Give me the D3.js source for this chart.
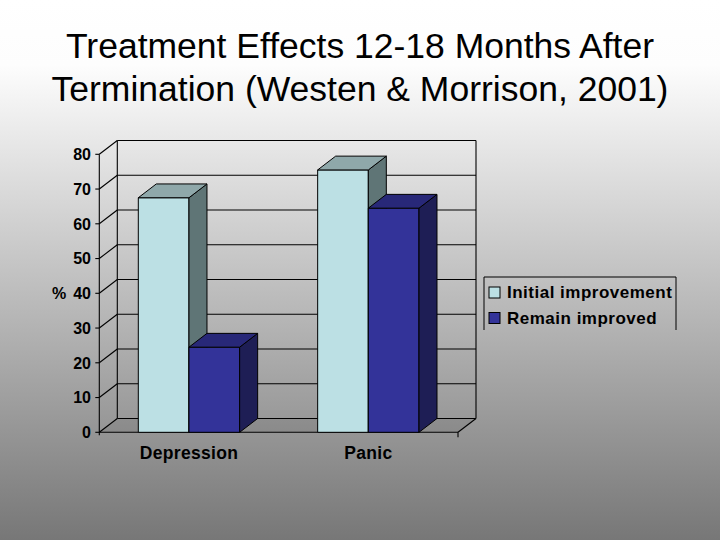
<!DOCTYPE html>
<html>
<head>
<meta charset="utf-8">
<script src="https://cdn.jsdelivr.net/npm/d3@7"></script>
<style>
  html, body { margin: 0; padding: 0; }
  body { width: 720px; height: 540px; overflow: hidden; }
  text { font-family: "Liberation Sans", Arial, sans-serif; }
</style>
</head>
<body>
<svg id="chart" width="720" height="540"></svg>
<script>
const titleLines = ["Treatment Effects 12-18 Months After", "Termination (Westen & Morrison, 2001)"];
const categories = ["Depression", "Panic"];
const seriesNames = ["Initial improvement", "Remain improved"];
const initialImprovement = [67.5, 75.5];
const remainImproved = [24.5, 64.5];
const yTicks = [0, 10, 20, 30, 40, 50, 60, 70, 80];
const yAxisLabel = "%";

const seriesValues = [initialImprovement, remainImproved];
const colors = [
  { front: "#bce0e4", top: "#8fa8aa", side: "#5f7576" },
  { front: "#333399", top: "#282878", side: "#1e1e55" }
];

const svg = d3.select("#chart");
const defs = svg.append("defs");
const grad = defs.append("linearGradient").attr("id", "bg").attr("x1", 0).attr("y1", 0).attr("x2", 0).attr("y2", 1);
grad.append("stop").attr("offset", "0%").attr("stop-color", "#ffffff");
grad.append("stop").attr("offset", "12%").attr("stop-color", "#fdfdfd");
grad.append("stop").attr("offset", "100%").attr("stop-color", "#777777");
svg.append("rect").attr("width", 720).attr("height", 540).attr("fill", "url(#bg)");

// Title
svg.append("g").selectAll("text").data(titleLines).join("text")
  .attr("x", 360).attr("y", (d, i) => 57.5 + i * 43.4)
  .attr("text-anchor", "middle")
  .attr("font-size", 35.5)
  .attr("fill", "#000")
  .text(d => d);

// Geometry
const x0 = 99.3, x1 = 458, dx = 18, dy = 13.8;
const y = d3.scaleLinear().domain([0, 80]).range([432.3, 154.3]);
const xCat = d3.scaleBand().domain(categories).range([x0, x1]).paddingInner(0.435).paddingOuter(0.2175);
const xSer = d3.scaleBand().domain(d3.range(seriesNames.length)).range([0, xCat.bandwidth()]);

const g = svg.append("g");
const line = (ax, ay, bx, by) => g.append("line").attr("x1", ax).attr("y1", ay).attr("x2", bx).attr("y2", by)
  .attr("stroke", "#000").attr("stroke-width", 1.1);

// Floor
g.append("path")
  .attr("d", `M${x0},${y(0)} L${x1},${y(0)} L${x1 + dx},${y(0) - dy} L${x0 + dx},${y(0) - dy} Z`)
  .attr("fill", "#000").attr("fill-opacity", 0.07);

// Back wall gridlines and side wall diagonals
yTicks.forEach(v => {
  line(x0 + dx, y(v) - dy, x1 + dx, y(v) - dy);
  line(x0, y(v), x0 + dx, y(v) - dy);
});
line(x0 + dx, y(0) - dy, x0 + dx, y(80) - dy);
line(x1 + dx, y(0) - dy, x1 + dx, y(80) - dy);
line(x1, y(0), x1 + dx, y(0) - dy);

// Front axes
line(x0, y(0) + 3, x0, y(80));
line(x0, y(0), x1, y(0));
line(x1, y(0), x1, y(0) + 5);
yTicks.forEach(v => line(x0 - 4, y(v), x0, y(v)));

g.append("g").selectAll("text").data(yTicks).join("text")
  .attr("x", 91).attr("y", d => y(d)).attr("dy", "0.36em")
  .attr("text-anchor", "end").attr("font-size", 16).attr("font-weight", "bold")
  .text(d => d);
g.append("text").attr("x", 52).attr("y", y(40)).attr("dy", "0.36em")
  .attr("font-size", 16).attr("font-weight", "bold").text(yAxisLabel);

// Bars
const bars = svg.append("g");
categories.forEach((cat, ci) => {
  seriesValues.forEach((vals, si) => {
    const bx = xCat(cat) + xSer(si), bw = xSer.bandwidth();
    const top = y(vals[ci]), bottom = y(0);
    const c = colors[si];
    const grp = bars.append("g").attr("stroke", "#000").attr("stroke-width", 1).attr("stroke-linejoin", "round");
    grp.append("path").attr("d", `M${bx},${bottom} L${bx + bw},${bottom} L${bx + bw},${top} L${bx},${top} Z`).attr("fill", c.front);
    grp.append("path").attr("d", `M${bx + bw},${bottom} L${bx + bw + dx},${bottom - dy} L${bx + bw + dx},${top - dy} L${bx + bw},${top} Z`).attr("fill", c.side);
    grp.append("path").attr("d", `M${bx},${top} L${bx + bw},${top} L${bx + bw + dx},${top - dy} L${bx + dx},${top - dy} Z`).attr("fill", c.top);
  });
});

// Category labels
svg.append("g").selectAll("text").data(categories).join("text")
  .attr("x", d => xCat(d) + xCat.bandwidth() / 2).attr("y", 459)
  .attr("text-anchor", "middle").attr("font-size", 17.5).attr("font-weight", "bold")
  .attr("letter-spacing", 0.3)
  .text(d => d);

// Legend
const lg = svg.append("g");
lg.append("path").attr("d", "M484,330 V277 H676 V330").attr("fill", "none").attr("stroke", "#000").attr("stroke-width", 1);
seriesNames.forEach((name, i) => {
  const yy = 287 + i * 25.5;
  lg.append("rect").attr("x", 489).attr("y", yy).attr("width", 11).attr("height", 11)
    .attr("fill", colors[i].front).attr("stroke", "#000").attr("stroke-width", 1);
  lg.append("text").attr("x", 507).attr("y", yy + 11).attr("font-size", 17).attr("font-weight", "bold")
    .attr("letter-spacing", 0.5).text(name);
});
</script>
</body>
</html>
